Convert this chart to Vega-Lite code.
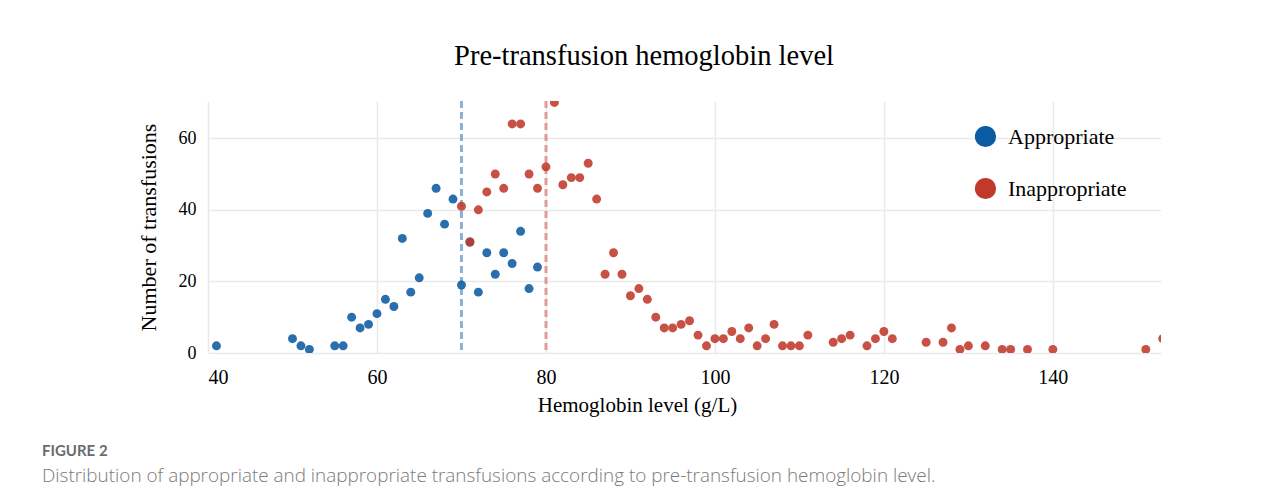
{
  "$schema": "https://vega.github.io/schema/vega-lite/v6.json",
  "background": "white",
  "padding": {"left": 42, "top": 42, "right": 0, "bottom": 5},
  "datasets": {
    "pts": [
      {"hb": 41, "n": 2, "group": "Appropriate"},
      {"hb": 50, "n": 4, "group": "Appropriate"},
      {"hb": 51, "n": 2, "group": "Appropriate"},
      {"hb": 52, "n": 1, "group": "Appropriate"},
      {"hb": 55, "n": 2, "group": "Appropriate"},
      {"hb": 56, "n": 2, "group": "Appropriate"},
      {"hb": 57, "n": 10, "group": "Appropriate"},
      {"hb": 58, "n": 7, "group": "Appropriate"},
      {"hb": 59, "n": 8, "group": "Appropriate"},
      {"hb": 60, "n": 11, "group": "Appropriate"},
      {"hb": 61, "n": 15, "group": "Appropriate"},
      {"hb": 62, "n": 13, "group": "Appropriate"},
      {"hb": 63, "n": 32, "group": "Appropriate"},
      {"hb": 64, "n": 17, "group": "Appropriate"},
      {"hb": 65, "n": 21, "group": "Appropriate"},
      {"hb": 66, "n": 39, "group": "Appropriate"},
      {"hb": 67, "n": 46, "group": "Appropriate"},
      {"hb": 68, "n": 36, "group": "Appropriate"},
      {"hb": 69, "n": 43, "group": "Appropriate"},
      {"hb": 70, "n": 19, "group": "Appropriate"},
      {"hb": 71, "n": 31, "group": "Appropriate"},
      {"hb": 72, "n": 17, "group": "Appropriate"},
      {"hb": 73, "n": 28, "group": "Appropriate"},
      {"hb": 74, "n": 22, "group": "Appropriate"},
      {"hb": 75, "n": 28, "group": "Appropriate"},
      {"hb": 76, "n": 25, "group": "Appropriate"},
      {"hb": 77, "n": 34, "group": "Appropriate"},
      {"hb": 78, "n": 18, "group": "Appropriate"},
      {"hb": 79, "n": 24, "group": "Appropriate"},
      {"hb": 70, "n": 41, "group": "Inappropriate"},
      {"hb": 71, "n": 31, "group": "Inappropriate"},
      {"hb": 72, "n": 40, "group": "Inappropriate"},
      {"hb": 73, "n": 45, "group": "Inappropriate"},
      {"hb": 74, "n": 50, "group": "Inappropriate"},
      {"hb": 75, "n": 46, "group": "Inappropriate"},
      {"hb": 76, "n": 64, "group": "Inappropriate"},
      {"hb": 77, "n": 64, "group": "Inappropriate"},
      {"hb": 78, "n": 50, "group": "Inappropriate"},
      {"hb": 79, "n": 46, "group": "Inappropriate"},
      {"hb": 80, "n": 52, "group": "Inappropriate"},
      {"hb": 81, "n": 70, "group": "Inappropriate"},
      {"hb": 82, "n": 47, "group": "Inappropriate"},
      {"hb": 83, "n": 49, "group": "Inappropriate"},
      {"hb": 84, "n": 49, "group": "Inappropriate"},
      {"hb": 85, "n": 53, "group": "Inappropriate"},
      {"hb": 86, "n": 43, "group": "Inappropriate"},
      {"hb": 87, "n": 22, "group": "Inappropriate"},
      {"hb": 88, "n": 28, "group": "Inappropriate"},
      {"hb": 89, "n": 22, "group": "Inappropriate"},
      {"hb": 90, "n": 16, "group": "Inappropriate"},
      {"hb": 91, "n": 18, "group": "Inappropriate"},
      {"hb": 92, "n": 15, "group": "Inappropriate"},
      {"hb": 93, "n": 10, "group": "Inappropriate"},
      {"hb": 94, "n": 7, "group": "Inappropriate"},
      {"hb": 95, "n": 7, "group": "Inappropriate"},
      {"hb": 96, "n": 8, "group": "Inappropriate"},
      {"hb": 97, "n": 9, "group": "Inappropriate"},
      {"hb": 98, "n": 5, "group": "Inappropriate"},
      {"hb": 99, "n": 2, "group": "Inappropriate"},
      {"hb": 100, "n": 4, "group": "Inappropriate"},
      {"hb": 101, "n": 4, "group": "Inappropriate"},
      {"hb": 102, "n": 6, "group": "Inappropriate"},
      {"hb": 103, "n": 4, "group": "Inappropriate"},
      {"hb": 104, "n": 7, "group": "Inappropriate"},
      {"hb": 105, "n": 2, "group": "Inappropriate"},
      {"hb": 106, "n": 4, "group": "Inappropriate"},
      {"hb": 107, "n": 8, "group": "Inappropriate"},
      {"hb": 108, "n": 2, "group": "Inappropriate"},
      {"hb": 109, "n": 2, "group": "Inappropriate"},
      {"hb": 110, "n": 2, "group": "Inappropriate"},
      {"hb": 111, "n": 5, "group": "Inappropriate"},
      {"hb": 114, "n": 3, "group": "Inappropriate"},
      {"hb": 115, "n": 4, "group": "Inappropriate"},
      {"hb": 116, "n": 5, "group": "Inappropriate"},
      {"hb": 118, "n": 2, "group": "Inappropriate"},
      {"hb": 119, "n": 4, "group": "Inappropriate"},
      {"hb": 120, "n": 6, "group": "Inappropriate"},
      {"hb": 121, "n": 4, "group": "Inappropriate"},
      {"hb": 125, "n": 3, "group": "Inappropriate"},
      {"hb": 127, "n": 3, "group": "Inappropriate"},
      {"hb": 128, "n": 7, "group": "Inappropriate"},
      {"hb": 129, "n": 1, "group": "Inappropriate"},
      {"hb": 130, "n": 2, "group": "Inappropriate"},
      {"hb": 132, "n": 2, "group": "Inappropriate"},
      {"hb": 134, "n": 1, "group": "Inappropriate"},
      {"hb": 135, "n": 1, "group": "Inappropriate"},
      {"hb": 137, "n": 1, "group": "Inappropriate"},
      {"hb": 140, "n": 1, "group": "Inappropriate"},
      {"hb": 151, "n": 1, "group": "Inappropriate"},
      {"hb": 153, "n": 4, "group": "Inappropriate"}
    ]
  },
  "title": {
    "text": "FIGURE 2",
    "subtitle": "Distribution of appropriate and inappropriate transfusions according to pre-transfusion hemoglobin level.",
    "orient": "bottom",
    "anchor": "start",
    "dx": -95,
    "offset": 29,
    "font": "Lato",
    "fontSize": 15,
    "fontWeight": "bold",
    "color": "#6b6b6b",
    "subtitleFont": "Open Sans",
    "subtitleFontSize": 18.9,
    "subtitleFontWeight": 300,
    "subtitleColor": "#7a7a7a",
    "subtitlePadding": 8
  },
  "vconcat": [
    {
      "title": {
        "text": "Pre-transfusion hemoglobin level",
        "font": "Liberation Serif",
        "fontSize": 28.5,
        "fontWeight": "normal",
        "color": "#000000",
        "anchor": "middle",
        "frame": "bounds",
        "dx": -5,
        "offset": 29
      },
      "width": 953,
      "height": 252,
      "layer": [
        {
          "data": {"values": [{"threshold": 70}]},
          "mark": {"type": "rule", "color": "#2a72b5", "opacity": 0.55, "strokeWidth": 3, "strokeDash": [7, 4]},
          "encoding": {
            "x": {"field": "threshold", "type": "quantitative", "scale": {"domain": [40, 152.8], "nice": false, "zero": false}}
          }
        },
        {
          "data": {"values": [{"threshold": 80}]},
          "mark": {"type": "rule", "color": "#d0554a", "opacity": 0.55, "strokeWidth": 3, "strokeDash": [7, 4]},
          "encoding": {
            "x": {"field": "threshold", "type": "quantitative", "scale": {"domain": [40, 152.8], "nice": false, "zero": false}}
          }
        },
        {
          "data": {"name": "pts"},
          "mark": {"type": "circle", "size": 80, "opacity": 0.88, "clip": true},
          "encoding": {
            "x": {
              "field": "hb", "type": "quantitative",
              "scale": {"domain": [40, 152.8], "nice": false, "zero": false},
              "axis": {"title": "Hemoglobin level (g/L)", "values": [40, 60, 80, 100, 120, 140], "labelFlush": true, "labelFontSize": 20, "labelPadding": 14, "titlePadding": 7, "titleFontSize": 21, "titleX": 429}
            },
            "y": {
              "field": "n", "type": "quantitative",
              "scale": {"domain": [0, 70.4], "nice": false},
              "axis": {"title": "Number of transfusions", "values": [0, 20, 40, 60], "labelFontSize": 18, "labelPadding": 12, "titlePadding": 18}
            },
            "color": {
              "field": "group", "type": "nominal",
              "scale": {"domain": ["Appropriate", "Inappropriate"], "range": ["#0b5ba2", "#c0392b"]},
              "legend": {
                "title": null, "orient": "none", "legendX": 766, "legendY": 24,
                "symbolType": "circle", "symbolSize": 450, "symbolOpacity": 1,
                "labelFont": "Liberation Serif", "labelFontSize": 22, "labelColor": "#000000",
                "rowPadding": 29, "labelOffset": 11
              }
            }
          }
        }
      ]
    }
  ],
  "config": {
    "view": {"stroke": null},
    "axis": {
      "domain": false, "ticks": false,
      "gridColor": "#e9e9e9", "gridWidth": 1.5,
      "labelFont": "Liberation Serif", "titleFont": "Liberation Serif",
      "labelColor": "#000000", "titleColor": "#000000",
      "titleFontWeight": "normal", "titleFontSize": 22
    }
  }
}
